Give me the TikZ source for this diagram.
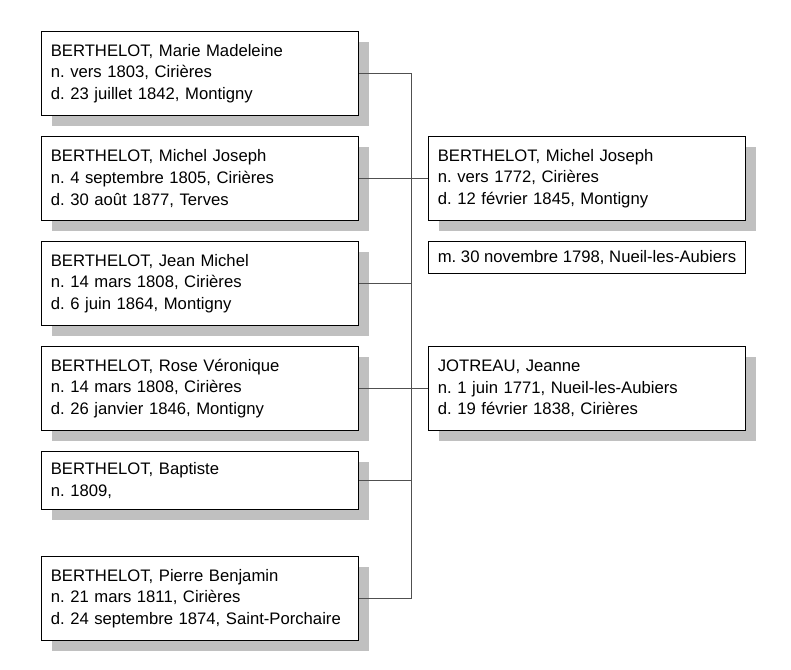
\documentclass[tikz,border=0pt]{standalone}
\usepackage{fontspec}
\setmainfont{Liberation Sans}
\frenchspacing
\usepackage{tikz}
\usetikzlibrary{%
  positioning,% wg. " of "
  shadows% drop shadow
}
\definecolor{shadowgray}{RGB}{192,192,192}
\definecolor{linkgray}{RGB}{80,80,80}

\begin{document}
\begin{tikzpicture}[x=0.75pt, y=-0.75pt, line width=0.75pt,
    box/.style={draw=black, fill=white, rectangle, align=left, text width=223.75pt,
      inner xsep=7pt, inner ysep=0pt, font=\fontsize{12.5pt}{16.3pt}\selectfont},
    person/.style={box, minimum height=63pt,
      drop shadow={shadow xshift=7.5pt, shadow yshift=-7.5pt, fill=shadowgray, opacity=1}},
    marriage/.style={box, text width=, minimum width=237.75pt, minimum height=24pt},
    link/.style={draw=linkgray, line width=0.75pt}]
    \useasboundingbox (0,0) rectangle (791,669);
    %children
    \node[person, anchor=north west] (c1) at (41,31) {BERTHELOT, Marie Madeleine\\n. vers 1803, Cirières\\d. 23 juillet 1842, Montigny};
    \node[person] (c2) [below=15pt of c1] {BERTHELOT, Michel Joseph\\n. 4 septembre 1805, Cirières\\d. 30 août 1877, Terves};
    \node[person] (c3) [below=15pt of c2] {BERTHELOT, Jean Michel\\n. 14 mars 1808, Cirières\\d. 6 juin 1864, Montigny};
    \node[person] (c4) [below=15pt of c3] {BERTHELOT, Rose Véronique\\n. 14 mars 1808, Cirières\\d. 26 janvier 1846, Montigny};
    \node[person, minimum height=43.5pt] (c5) [below=15pt of c4] {BERTHELOT, Baptiste\\n. 1809,};
    \node[person] (c6) [below=34.5pt of c5] {BERTHELOT, Pierre Benjamin\\n. 21 mars 1811, Cirières\\d. 24 septembre 1874, Saint-Porchaire};

    %parents
    \node[person] (father) [right=51.75pt of c2] {BERTHELOT, Michel Joseph\\n. vers 1772, Cirières\\d. 12 février 1845, Montigny};
    \node[marriage] (wedding) [below=15pt of father] {m. 30 novembre 1798, Nueil-les-Aubiers};
    \node[person] (mother) [right=51.75pt of c4] {JOTREAU, Jeanne\\n. 1 juin 1771, Nueil-les-Aubiers\\d. 19 février 1838, Cirières};

    %links
    \coordinate[right=39pt of c1.east] (spine);
    \draw[link] (c1) -- (spine) |- (c6);
    \draw[link] (c2) -- (father);
    \draw[link] (c3) -- (c3 -| spine);
    \draw[link] (c4) -- (mother);
    \draw[link] (c5) -- (c5 -| spine);
\end{tikzpicture}
\end{document}
